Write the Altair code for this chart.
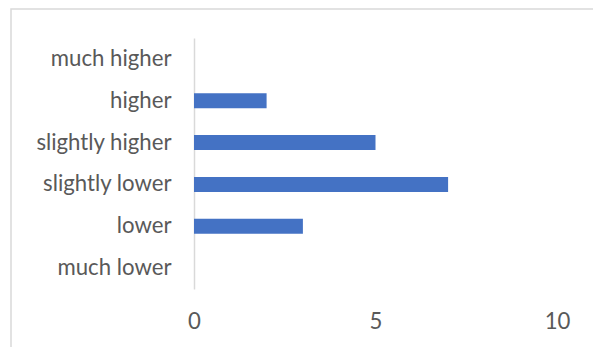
import altair as alt
import pandas as pd

# Survey responses per category
categories = ["much higher", "higher", "slightly higher", "slightly lower", "lower", "much lower"]
counts = [0, 2, 5, 7, 3, 0]

df = pd.DataFrame({"category": categories, "count": counts})

FONT = "Lato"
LABEL_COLOR = "#595959"

bars = alt.Chart(df).mark_bar(color="#4472C4").encode(
    y=alt.Y(
        "category:N",
        sort=categories,
        title=None,
        scale=alt.Scale(paddingInner=0.64, paddingOuter=0.32),
        axis=alt.Axis(
            domainColor="#d9d9d9",
            domainWidth=1.5,
            ticks=False,
            labelPadding=23,
            labelFont=FONT,
            labelFontSize=22.2,
            labelColor=LABEL_COLOR,
            labelLimit=300,
        ),
    ),
    x=alt.X(
        "count:Q",
        title=None,
        scale=alt.Scale(domain=[0, 10], nice=False),
        axis=alt.Axis(
            values=[0, 5, 10],
            domain=False,
            ticks=False,
            grid=False,
            labelFlush=False,
            labelPadding=21,
            labelFont=FONT,
            labelFontSize=22.2,
            labelColor=LABEL_COLOR,
        ),
    ),
)

# Outer chart frame
frame = alt.Chart(pd.DataFrame({"f": [0]})).mark_rect(
    fill=None, stroke="#d9d9d9", strokeWidth=1.5
).encode(
    x=alt.value(-183),
    x2=alt.value(600),
    y=alt.value(-29),
    y2=alt.value(400),
)

chart = alt.layer(frame, bars).properties(
    width=363,
    height=251,
    padding={"left": 194, "top": 38, "right": 36, "bottom": 58},
    autosize=alt.AutoSizeParams(type="none"),
    background="white",
).configure_view(stroke=None)

chart.save("out.html", embed_options={"renderer": "svg", "actions": False})
